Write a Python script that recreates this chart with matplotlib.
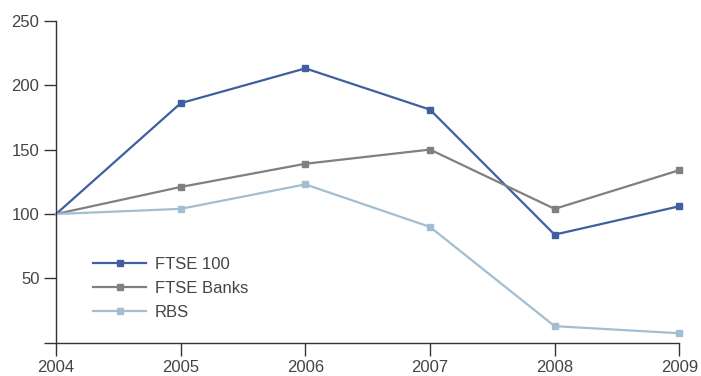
import matplotlib
matplotlib.use("Agg")
import matplotlib.pyplot as plt

years = [2004, 2005, 2006, 2007, 2008, 2009]
ftse_100 = [100, 186, 213, 181, 84, 106]
ftse_banks = [100, 121, 139, 150, 104, 134]
rbs = [100, 104, 123, 90, 13, 7.5]

y_ticks = [0, 50, 100, 150, 200, 250]
y_tick_labels = ["", "50", "100", "150", "200", "250"]

plt.rcParams["font.family"] = ["Liberation Sans", "DejaVu Sans"]
plt.rcParams["font.size"] = 12

fig = plt.figure(figsize=(7.01, 3.76), dpi=100)
ax = fig.add_axes([0.08, 0.088, 0.889, 0.857])

series = [
    (ftse_100, "FTSE 100", "#3f5f9e"),
    (ftse_banks, "FTSE Banks", "#808080"),
    (rbs, "RBS", "#a3bdd1"),
]
for vals, label, color in series:
    # no marker on the 2004 base point
    ax.plot(years, vals, color=color, lw=1.6, marker="s", ms=4.8,
            markevery=slice(1, None), label=label, clip_on=False)

ax.set_xlim(2004, 2009)
ax.set_ylim(0, 250)
ax.set_xticks(years)
ax.set_yticks(y_ticks)
ax.set_yticklabels(y_tick_labels)

for side in ["top", "right"]:
    ax.spines[side].set_visible(False)
for side in ["left", "bottom"]:
    ax.spines[side].set_color("#333333")
    ax.spines[side].set_linewidth(1.0)
ax.tick_params(axis="both", direction="out", length=9, width=1.0,
               color="#333333", labelcolor="#444444", labelsize=12)
ax.tick_params(axis="y", pad=3)
ax.tick_params(axis="x", pad=3)

ax.legend(loc="lower left", bbox_to_anchor=(0.035, 0.026), frameon=False,
          handlelength=3.2, labelspacing=0.54, handletextpad=0.5,
          labelcolor="#444444")

fig.savefig("out.png", dpi=100)
